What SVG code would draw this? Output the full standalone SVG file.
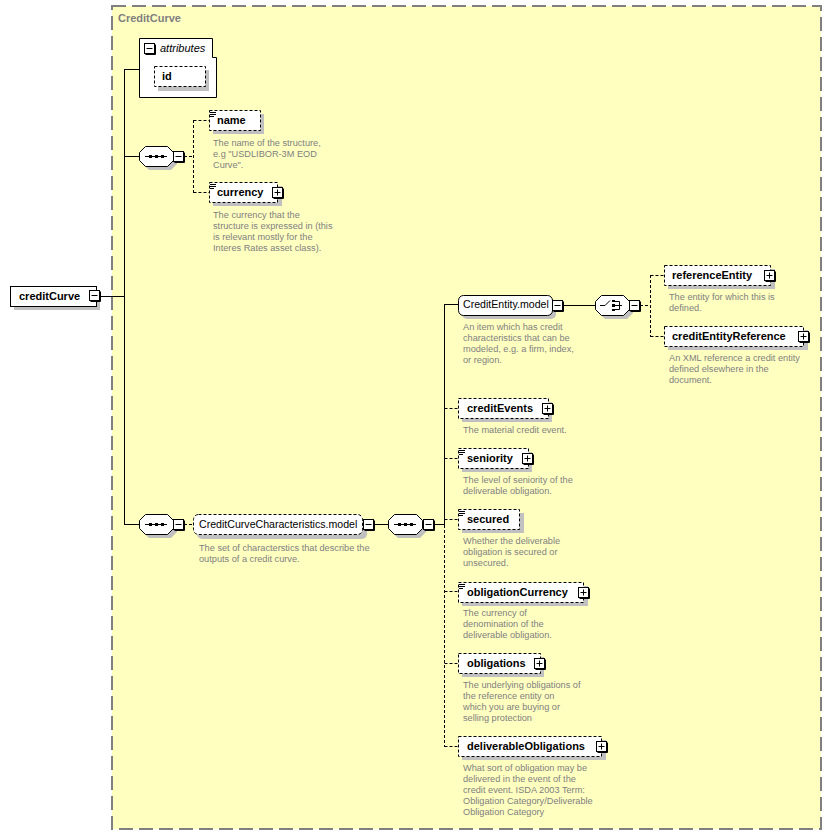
<svg xmlns="http://www.w3.org/2000/svg" width="832" height="835" viewBox="0 0 832 835">
<style>
.frame{fill:#ffffc0;stroke:#808080;stroke-width:2;stroke-dasharray:14,6}
.ttl{font-family:"Liberation Sans",Arial,sans-serif;font-size:11px;font-weight:bold;fill:#808080}
.box{fill:#fff;stroke:#000;stroke-width:1}
.dbox{fill:#fff;stroke:#000;stroke-width:1;stroke-dasharray:3,2}
.sh{fill:#c0c0c0}
.lbl{font-family:"Liberation Sans",Arial,sans-serif;font-size:11px;font-weight:bold;fill:#000}
.mdl{font-family:"Liberation Sans",Arial,sans-serif;font-size:10.6px;fill:#000}
.it{font-family:"Liberation Sans",Arial,sans-serif;font-size:11px;font-style:italic;fill:#000}
.dsc{font-family:"Liberation Sans",Arial,sans-serif;font-size:9.2px;fill:#808080}
.ln{fill:none;stroke:#000;stroke-width:1}
.dl{fill:none;stroke:#000;stroke-width:1;stroke-dasharray:3,2}
.ic{fill:#fff;stroke:#000;stroke-width:1}
.icl{fill:none;stroke:#000;stroke-width:1}
</style>
<defs>
<g id="minus"><rect x="0.5" y="0.5" width="10" height="10" class="ic"/><path d="M11.5,1.5V11.5H1.5" class="icl"/><path d="M2.5,5.5H8.5" class="icl"/></g>
<g id="plus"><rect x="0.5" y="0.5" width="10" height="10" class="ic"/><path d="M11.5,1.5V11.5H1.5" class="icl"/><path d="M2.5,5.5H8.5M5.5,2.5V8.5" class="icl"/></g>
<g id="simple"><path d="M0,0.5H6M0,2.5H6M0,4.5H4" class="icl"/></g>
<path id="oct" d="M6,0H28L34,6V14L28,20H6L0,14V6Z"/>
</defs>

<rect x="112" y="6" width="709" height="823" class="frame"/>
<text x="118" y="22" class="ttl">CreditCurve</text>

<g id="connectors">
<path d="M101,296.5H124.5M124.5,69V525M124.5,69.5H139M124.5,156.5H139M124.5,524.5H139" class="ln"/>
<path d="M184,156.5H193.5M193.5,120V193M193.5,120.5H209M193.5,192.5H209" class="dl"/>
<path d="M184,524.5H193" class="dl"/>
<path d="M375,524.5H388M434,524.5H444.5M444.5,304V525M444.5,304.5H458" class="ln"/>
<path d="M444.5,525V747M444.5,408.5H458M444.5,458.5H458M444.5,519.5H458M444.5,591.5H458M444.5,663.5H458M444.5,746.5H458" class="dl"/>
<path d="M563,305.5H595" class="ln"/>
<path d="M640,305.5H650.5M650.5,275V337M650.5,275.5H664M650.5,336.5H664" class="dl"/>
</g>

<g id="creditCurve">
<rect x="14" y="290" width="86" height="20" class="sh"/>
<rect x="10.5" y="286.5" width="86" height="20" class="box"/>
<text x="19" y="300" class="lbl">creditCurve</text>
<use href="#minus" x="89" y="290"/>
</g>

<g id="attributes">
<path d="M139.5,38.5H212.5V57.5H216.5V97.5H139.5Z" class="box"/>
<use href="#minus" x="144" y="43"/>
<text x="160" y="52" class="it">attributes</text>
</g>

<g id="id">
<rect x="158" y="70" width="51" height="21" class="sh"/>
<rect x="154.5" y="66.5" width="51" height="20" class="dbox"/>
<text x="162" y="80" class="lbl">id</text>
</g>

<g id="seq1">
<use href="#oct" x="143" y="150" class="sh"/>
<use href="#oct" x="139.5" y="146.5" class="box"/>
<path d="M145,156.5H167" class="ln"/>
<rect x="149" y="155" width="3" height="3" fill="#000"/><rect x="155" y="155" width="3" height="3" fill="#000"/><rect x="161" y="155" width="3" height="3" fill="#000"/>
<use href="#minus" x="173" y="151"/>
</g>

<g id="name">
<rect x="213" y="114" width="51" height="20" class="sh"/>
<rect x="209.5" y="110.5" width="51" height="20" class="dbox"/>
<use href="#simple" x="210" y="112"/>
<text x="217" y="124" class="lbl">name</text>
<text class="dsc"><tspan x="213" y="146">The name of the structure,</tspan><tspan x="213" y="157">e.g "USDLIBOR-3M EOD</tspan><tspan x="213" y="168">Curve".</tspan></text>
</g>

<g id="currency">
<rect x="213" y="186" width="69" height="20" class="sh"/>
<rect x="209.5" y="182.5" width="68" height="20" class="dbox"/>
<use href="#simple" x="210" y="184"/>
<text x="217" y="196" class="lbl">currency</text>
<use href="#plus" x="272" y="187"/>
<text class="dsc"><tspan x="213" y="218">The currency that the</tspan><tspan x="213" y="229">structure is expressed in (this</tspan><tspan x="213" y="240">is relevant mostly for the</tspan><tspan x="213" y="251">Interes Rates asset class).</tspan></text>
</g>

<g id="seq2">
<use href="#oct" x="143" y="518" class="sh"/>
<use href="#oct" x="139.5" y="514.5" class="box"/>
<path d="M145,524.5H167" class="ln"/>
<rect x="149" y="523" width="3" height="3" fill="#000"/><rect x="155" y="523" width="3" height="3" fill="#000"/><rect x="161" y="523" width="3" height="3" fill="#000"/>
<use href="#minus" x="173" y="519"/>
</g>

<g id="CreditCurveCharacteristics.model">
<rect x="197" y="519" width="170" height="20" rx="5" class="sh"/>
<rect x="193.5" y="514.5" width="169" height="20" rx="5" class="dbox"/>
<text x="199" y="528" class="mdl">CreditCurveCharacteristics.model</text>
<use href="#minus" x="363" y="519"/>
<text class="dsc"><tspan x="199" y="551">The set of characterstics that describe the</tspan><tspan x="199" y="562">outputs of a credit curve.</tspan></text>
</g>

<g id="seq3">
<use href="#oct" x="392" y="518" class="sh"/>
<use href="#oct" x="388.5" y="514.5" class="box"/>
<path d="M394,524.5H416" class="ln"/>
<rect x="398" y="523" width="3" height="3" fill="#000"/><rect x="404" y="523" width="3" height="3" fill="#000"/><rect x="410" y="523" width="3" height="3" fill="#000"/>
<use href="#minus" x="423" y="519"/>
</g>

<g id="CreditEntity.model">
<rect x="462" y="299" width="94" height="20" rx="5" class="sh"/>
<rect x="458.5" y="295.5" width="94" height="20" rx="5" class="box"/>
<text x="463" y="308" class="mdl">CreditEntity.model</text>
<use href="#minus" x="552" y="300"/>
<text class="dsc"><tspan x="463" y="330">An item which has credit</tspan><tspan x="463" y="341">characteristics that can be</tspan><tspan x="463" y="352">modeled, e.g. a firm, index,</tspan><tspan x="463" y="363">or region.</tspan></text>
</g>

<g id="choice">
<use href="#oct" x="599" y="299" class="sh"/>
<use href="#oct" x="595.5" y="295.5" class="box"/>
<path d="M600,305.5H605L610,300.5" class="ln"/>
<rect x="612" y="300" width="3" height="2" fill="#000"/><rect x="612" y="304" width="3" height="3" fill="#000"/><rect x="612" y="309" width="3" height="2" fill="#000"/>
<path d="M615,301.5H619.5V309.5H615M615,305.5H622" class="ln"/>
<use href="#minus" x="629" y="300"/>
</g>

<g id="referenceEntity">
<rect x="668" y="269" width="107" height="20" class="sh"/>
<rect x="664.5" y="265.5" width="106" height="20" class="dbox"/>
<text x="672" y="279" class="lbl">referenceEntity</text>
<use href="#plus" x="764" y="270"/>
<text class="dsc"><tspan x="669" y="300">The entity for which this is</tspan><tspan x="669" y="311">defined.</tspan></text>
</g>

<g id="creditEntityReference">
<rect x="668" y="330" width="140" height="20" class="sh"/>
<rect x="664.5" y="326.5" width="139" height="20" class="dbox"/>
<text x="672" y="340" class="lbl">creditEntityReference</text>
<use href="#plus" x="798" y="331"/>
<text class="dsc"><tspan x="669" y="361">An XML reference a credit entity</tspan><tspan x="669" y="372">defined elsewhere in the</tspan><tspan x="669" y="383">document.</tspan></text>
</g>

<g id="creditEvents">
<rect x="462" y="402" width="90" height="20" class="sh"/>
<rect x="458.5" y="398.5" width="90" height="20" class="dbox"/>
<text x="467" y="412" class="lbl">creditEvents</text>
<use href="#plus" x="542" y="403"/>
<text class="dsc"><tspan x="463" y="433">The material credit event.</tspan></text>
</g>

<g id="seniority">
<rect x="462" y="452" width="70" height="20" class="sh"/>
<rect x="458.5" y="448.5" width="70" height="20" class="dbox"/>
<use href="#simple" x="459" y="450"/>
<text x="467" y="462" class="lbl">seniority</text>
<use href="#plus" x="522" y="453"/>
<text class="dsc"><tspan x="463" y="483">The level of seniority of the</tspan><tspan x="463" y="494">deliverable obligation.</tspan></text>
</g>

<g id="secured">
<rect x="462" y="513" width="62" height="20" class="sh"/>
<rect x="458.5" y="509.5" width="61" height="20" class="dbox"/>
<use href="#simple" x="459" y="511"/>
<text x="467" y="523" class="lbl">secured</text>
<text class="dsc"><tspan x="463" y="544">Whether the deliverable</tspan><tspan x="463" y="555">obligation is secured or</tspan><tspan x="463" y="566">unsecured.</tspan></text>
</g>

<g id="obligationCurrency">
<rect x="462" y="586" width="126" height="20" class="sh"/>
<rect x="458.5" y="582.5" width="125" height="20" class="dbox"/>
<use href="#simple" x="459" y="584"/>
<text x="467" y="596" class="lbl">obligationCurrency</text>
<use href="#plus" x="578" y="587"/>
<text class="dsc"><tspan x="463" y="616">The currency of</tspan><tspan x="463" y="627">denomination of the</tspan><tspan x="463" y="638">deliverable obligation.</tspan></text>
</g>

<g id="obligations">
<rect x="462" y="657" width="82" height="20" class="sh"/>
<rect x="458.5" y="653.5" width="82" height="20" class="dbox"/>
<text x="467" y="667" class="lbl">obligations</text>
<use href="#plus" x="534" y="658"/>
<text class="dsc"><tspan x="463" y="688">The underlying obligations of</tspan><tspan x="463" y="699">the reference entity on</tspan><tspan x="463" y="710">which you are buying or</tspan><tspan x="463" y="721">selling protection</tspan></text>
</g>

<g id="deliverableObligations">
<rect x="462" y="740" width="144" height="20" class="sh"/>
<rect x="458.5" y="736.5" width="143" height="20" class="dbox"/>
<text x="467" y="750" class="lbl">deliverableObligations</text>
<use href="#plus" x="596" y="741"/>
<text class="dsc"><tspan x="463" y="771">What sort of obligation may be</tspan><tspan x="463" y="782">delivered in the event of the</tspan><tspan x="463" y="793">credit event. ISDA 2003 Term:</tspan><tspan x="463" y="804">Obligation Category/Deliverable</tspan><tspan x="463" y="815">Obligation Category</tspan></text>
</g>
</svg>
